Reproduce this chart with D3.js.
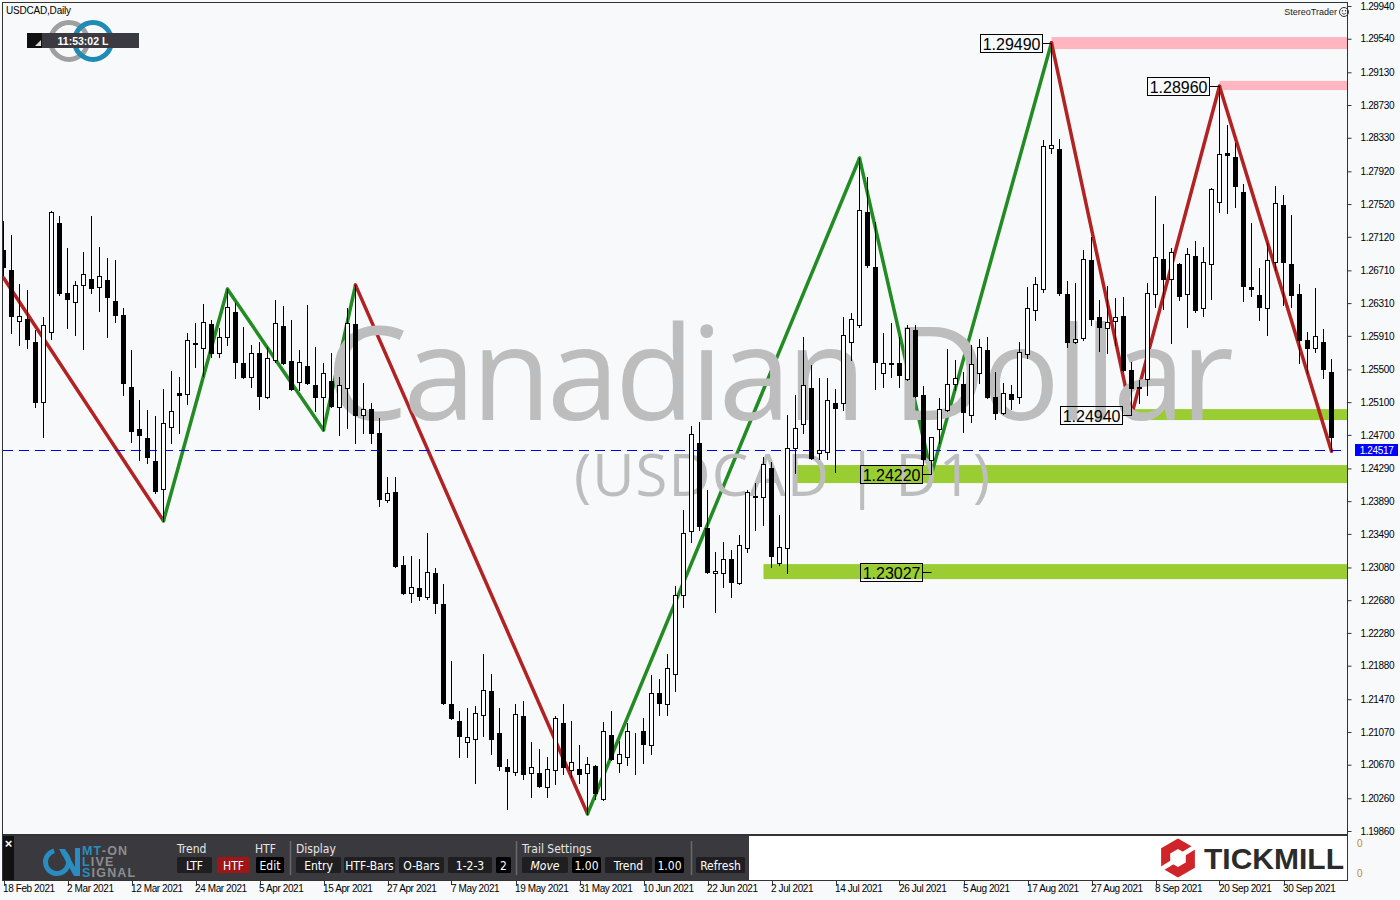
<!DOCTYPE html>
<html><head><meta charset="utf-8">
<script src="https://cdn.jsdelivr.net/npm/d3@7"></script>
<style>body{margin:0;background:#f8f9fb;overflow:hidden}svg{display:block}</style>
</head><body><svg id="c" width="1400" height="900"></svg>
<script>
// ---------------- DATA ----------------
const dateTickLabels = ["18 Feb 2021","2 Mar 2021","12 Mar 2021","24 Mar 2021","5 Apr 2021","15 Apr 2021","27 Apr 2021","7 May 2021","19 May 2021","31 May 2021","10 Jun 2021","22 Jun 2021","2 Jul 2021","14 Jul 2021","26 Jul 2021","5 Aug 2021","17 Aug 2021","27 Aug 2021","8 Sep 2021","20 Sep 2021","30 Sep 2021"];
const dateTickBars = [0,8,16,24,32,40,48,56,64,72,80,88,96,104,112,120,128,136,144,152,160];
const priceTicks = [1.29940,1.29540,1.29130,1.28730,1.28330,1.27920,1.27520,1.27120,1.26710,1.26310,1.25910,1.25500,1.25100,1.24700,1.24290,1.23890,1.23490,1.23080,1.22680,1.22280,1.21880,1.21470,1.21070,1.20670,1.20260,1.19860];

const opens = [1.2696,1.2671,1.2609,1.2612,1.2583,1.2510,1.2596,1.2729,1.2643,1.2632,
1.2653,1.2660,1.2651,1.2659,1.2634,1.2616,1.2528,1.2477,1.2466,1.2438,
1.2404,1.2480,1.2521,1.2520,1.2581,1.2576,1.2605,1.2570,1.2590,1.2620,
1.2558,1.2541,1.2570,1.2516,1.2561,1.2603,1.2560,1.2535,1.2554,1.2531,
1.2516,1.2536,1.2504,1.2527,1.2605,1.2494,1.2502,1.2472,1.2390,1.2400,
1.2311,1.2277,1.2283,1.2272,1.2301,1.2263,1.2141,1.2120,1.2095,1.2098,
1.2128,1.2157,1.2106,1.2064,1.2058,1.2126,1.2057,1.2057,1.2040,1.2061,
1.2118,1.2061,1.2062,1.2057,1.2066,1.2025,1.2103,1.2069,1.2077,1.2104,
1.2108,1.2091,1.2155,1.2141,1.2178,1.2274,1.2352,1.2460,1.2356,1.2301,
1.2301,1.2318,1.2289,1.2332,1.2394,1.2394,1.2429,1.2313,1.2332,1.2454,
1.2483,1.2527,1.2448,1.2449,1.2509,1.2509,1.2583,1.2604,1.2742,1.2675,
1.2546,1.2557,1.2558,1.2538,1.2598,1.2519,1.2439,1.2477,1.2500,1.2532,
1.2532,1.2494,1.2545,1.2574,1.2516,1.2497,1.2520,1.2516,1.2569,1.2623,
1.2648,1.2820,1.2819,1.2642,1.2583,1.2588,1.2684,1.2614,1.2601,1.2609,
1.2615,1.2549,1.2528,1.2538,1.2642,1.2685,1.2660,1.2679,1.2642,1.2689,
1.2625,1.2679,1.2755,1.2815,1.2809,1.2767,1.2651,1.2641,1.2625,1.2681,
1.2751,1.2679,1.2642,1.2586,1.2576,1.2583,1.2547];
const highs = [1.2731,1.2714,1.2654,1.2647,1.2598,1.2614,1.2743,1.2737,1.2698,1.2658,
1.2693,1.2737,1.2699,1.2686,1.2684,1.2625,1.2574,1.2513,1.2500,1.2493,
1.2526,1.2548,1.2541,1.2594,1.2607,1.2630,1.2610,1.2601,1.2648,1.2631,
1.2602,1.2580,1.2583,1.2577,1.2635,1.2627,1.2610,1.2574,1.2629,1.2577,
1.2558,1.2570,1.2541,1.2625,1.2653,1.2533,1.2509,1.2491,1.2418,1.2418,
1.2322,1.2322,1.2318,1.2350,1.2307,1.2288,1.2194,1.2133,1.2136,1.2139,
1.2202,1.2178,1.2136,1.2074,1.2141,1.2145,1.2095,1.2086,1.2077,1.2126,
1.2141,1.2120,1.2091,1.2077,1.2067,1.2119,1.2133,1.2096,1.2118,1.2106,
1.2124,1.2176,1.2172,1.2202,1.2285,1.2378,1.2481,1.2486,1.2403,1.2327,
1.2339,1.2329,1.2348,1.2403,1.2411,1.2443,1.2437,1.2372,1.2494,1.2519,
1.2590,1.2555,1.2539,1.2539,1.2526,1.2614,1.2619,1.2808,1.2785,1.2730,
1.2594,1.2607,1.2590,1.2604,1.2604,1.2530,1.2467,1.2515,1.2575,1.2561,
1.2547,1.2580,1.2587,1.2590,1.2547,1.2533,1.2531,1.2583,1.2651,1.2663,
1.2830,1.2949,1.2831,1.2658,1.2655,1.2696,1.2712,1.2635,1.2652,1.2637,
1.2638,1.2559,1.2537,1.2655,1.2762,1.2728,1.2698,1.2680,1.2698,1.2707,
1.2699,1.2772,1.2896,1.2849,1.2827,1.2777,1.2729,1.2674,1.2704,1.2774,
1.2763,1.2739,1.2654,1.2596,1.2649,1.2599,1.2563];
const lows = [1.2665,1.2594,1.2580,1.2576,1.2504,1.2467,1.2587,1.2641,1.2601,1.2592,
1.2575,1.2643,1.2621,1.2590,1.2608,1.2519,1.2461,1.2439,1.2436,1.2399,
1.2365,1.2460,1.2472,1.2508,1.2553,1.2542,1.2565,1.2565,1.2580,1.2539,
1.2540,1.2528,1.2501,1.2515,1.2559,1.2557,1.2525,1.2525,1.2532,1.2499,
1.2476,1.2504,1.2470,1.2478,1.2460,1.2472,1.2460,1.2383,1.2388,1.2309,
1.2276,1.2266,1.2268,1.2269,1.2252,1.2141,1.2123,1.2077,1.2077,1.2045,
1.2102,1.2080,1.2060,1.2013,1.2054,1.2049,1.2027,1.2040,1.2027,1.2043,
1.2056,1.2052,1.2045,1.2007,1.2025,1.2024,1.2073,1.2058,1.2067,1.2056,
1.2069,1.2080,1.2128,1.2128,1.2157,1.2260,1.2339,1.2354,1.2301,1.2253,
1.2284,1.2272,1.2288,1.2327,1.2354,1.2360,1.2308,1.2311,1.2301,1.2423,
1.2472,1.2441,1.2441,1.2441,1.2425,1.2500,1.2561,1.2602,1.2675,1.2526,
1.2528,1.2541,1.2528,1.2537,1.2516,1.2433,1.2422,1.2460,1.2499,1.2525,
1.2473,1.2486,1.2533,1.2515,1.2489,1.2496,1.2501,1.2509,1.2564,1.2610,
1.2644,1.2814,1.2641,1.2577,1.2582,1.2586,1.2604,1.2572,1.2570,1.2580,
1.2548,1.2494,1.2509,1.2519,1.2626,1.2624,1.2582,1.2635,1.2602,1.2620,
1.2615,1.2636,1.2742,1.2741,1.2748,1.2634,1.2640,1.2610,1.2592,1.2671,
1.2629,1.2626,1.2558,1.2546,1.2571,1.2540,1.2450];
const closes = [1.2675,1.2615,1.2615,1.2587,1.2510,1.2604,1.2742,1.2643,1.2636,1.2653,
1.2667,1.2649,1.2664,1.2638,1.2616,1.2533,1.2475,1.2470,1.2443,1.2401,
1.2484,1.2499,1.2519,1.2586,1.2582,1.2608,1.2570,1.2590,1.2626,1.2559,
1.2541,1.2570,1.2517,1.2564,1.2607,1.2558,1.2526,1.2559,1.2533,1.2516,
1.2546,1.2505,1.2531,1.2607,1.2494,1.2502,1.2472,1.2392,1.2399,1.2310,
1.2277,1.2284,1.2273,1.2302,1.2264,1.2143,1.2124,1.2102,1.2101,1.2130,
1.2158,1.2098,1.2065,1.2059,1.2129,1.2056,1.2064,1.2041,1.2062,1.2124,
1.2064,1.2070,1.2056,1.2068,1.2032,1.2108,1.2074,1.2080,1.2108,1.2105,
1.2092,1.2155,1.2142,1.2185,1.2274,1.2350,1.2471,1.2359,1.2302,1.2304,
1.2318,1.2290,1.2335,1.2400,1.2395,1.2434,1.2322,1.2333,1.2454,1.2478,
1.2531,1.2442,1.2451,1.2513,1.2503,1.2592,1.2612,1.2745,1.2678,1.2559,
1.2558,1.2558,1.2543,1.2601,1.2517,1.2441,1.2467,1.2502,1.2532,1.2539,
1.2498,1.2557,1.2577,1.2516,1.2497,1.2521,1.2514,1.2571,1.2625,1.2654,
1.2823,1.2824,1.2643,1.2583,1.2587,1.2685,1.2612,1.2602,1.2608,1.2614,
1.2549,1.2527,1.2527,1.2643,1.2687,1.2660,1.2693,1.2640,1.2691,1.2623,
1.2681,1.2771,1.2813,1.2812,1.2774,1.2652,1.2648,1.2626,1.2684,1.2753,
1.2681,1.2641,1.2586,1.2576,1.2591,1.2550,1.2467];

// zigzag pivots (bar index, price) and trend of each segment
const zigBars   = [0, 20, 28, 40, 44, 73, 107, 116, 131, 141, 152, 166];
const zigPrices = [1.2662, 1.2365, 1.2648, 1.2476, 1.2653, 1.2007, 1.2808, 1.2422, 1.2949, 1.2494, 1.2896, 1.2450];
const zigTrend  = ["bear","bull","bull","bull","bear","bull","bull","bull","bear","bear","bear"];

// support / resistance zones
const zoneStartBars = [131, 152, 141, 99, 95];
const zoneTops      = [1.29561, 1.29025, 1.25015, 1.24331, 1.23121];
const zoneBottoms   = [1.29414, 1.28913, 1.24881, 1.24111, 1.22938];
const zoneKinds     = ["res","res","sup","sup","sup"];

// price labels
const labelTexts  = ["1.29490","1.28960","1.24940","1.24220","1.23027"];
const labelPrices = [1.2949, 1.2896, 1.2494, 1.2422, 1.23027];
const labelBars   = [131, 152, 141, 116, 116];

const currentPrice = 1.24517;

// ---------------- DRAW ----------------
const svg = d3.select("#c");
const FONT = "'Liberation Sans', Arial, sans-serif";
const NARROW = "'DejaVu Sans Condensed','Liberation Sans Narrow','DejaVu Sans',sans-serif";
const L = 3, R = 1347, T = 3, B = 834;
const x = d3.scaleLinear().domain([0, 166]).range([3.5, 1331.5]);
const y = d3.scaleLinear().domain([1.1986, 1.2994]).range([831, 6]);

svg.append("rect").attr("width",1400).attr("height",900).attr("fill","#f8f9fb");
svg.append("defs").append("clipPath").attr("id","plot")
  .append("rect").attr("x",L).attr("y",T).attr("width",R-L).attr("height",B-T);
const plot = svg.append("g").attr("clip-path","url(#plot)");

// zones
const zoneColor = {res:"#ffb6c1", sup:"#9acd32"};
plot.selectAll("rect.zone").data(zoneStartBars).join("rect").attr("class","zone")
  .attr("x", d => x(d)).attr("width", d => R - x(d))
  .attr("y", (d,i) => y(zoneTops[i])).attr("height", (d,i) => y(zoneBottoms[i]) - y(zoneTops[i]))
  .attr("fill", (d,i) => zoneColor[zoneKinds[i]]);

// zigzag
const trendColor = {bull:"#228b22", bear:"#b22222"};
const line = d3.line().x(d => x(d[0])).y(d => y(d[1]));
zigTrend.forEach((t,i) => {
  plot.append("path")
    .attr("d", line([[zigBars[i], zigPrices[i]], [zigBars[i+1], zigPrices[i+1]]]))
    .attr("stroke", trendColor[t]).attr("stroke-width",3.5).attr("fill","none")
    .attr("stroke-linecap","round");
});

// watermark
plot.append("text").attr("x",326).attr("y",420).text("Canadian Dollar")
  .attr("font-family","'Open Sans', sans-serif").attr("font-size",130)
  .attr("textLength",908).attr("lengthAdjust","spacing").attr("fill","#bdbdbd");
plot.append("text").attr("x",574).attr("y",496).text("(USDCAD | D1)")
  .attr("font-family","'Open Sans', sans-serif").attr("font-size",58)
  .attr("textLength",416).attr("lengthAdjust","spacing").attr("fill","#bdbdbd");

// current price dashed line
plot.append("line").attr("x1",L).attr("x2",R)
  .attr("y1", Math.round(y(currentPrice))+0.5).attr("y2", Math.round(y(currentPrice))+0.5)
  .attr("stroke","#0000ff").attr("stroke-dasharray","10,6");

// candles
const idx = d3.range(opens.length);
const cg = plot.append("g").attr("shape-rendering","crispEdges");
cg.selectAll("line.wick").data(idx).join("line").attr("class","wick")
  .attr("x1", i => x(i)).attr("x2", i => x(i))
  .attr("y1", i => Math.round(y(highs[i]))).attr("y2", i => Math.round(y(lows[i]))+1)
  .attr("stroke","#000");
cg.selectAll("rect.body").data(idx).join("rect").attr("class","body")
  .each(function(i){
    const up = closes[i] >= opens[i];
    const yt = Math.round(y(Math.max(opens[i],closes[i])));
    const yb = Math.round(y(Math.min(opens[i],closes[i])));
    const s = d3.select(this);
    if (up) {
      s.attr("x", x(i)-2).attr("width",4).attr("y", yt+0.5).attr("height", Math.max(0,yb-yt))
       .attr("fill","#fff").attr("stroke","#000").attr("shape-rendering","auto");
    } else {
      s.attr("x", x(i)-2.5).attr("width",5).attr("y", yt).attr("height", Math.max(1,yb-yt+1))
       .attr("fill","#000");
    }
  });

// price labels
const lg = plot.append("g");
labelTexts.forEach((t,i) => {
  const bx = x(labelBars[i]), py = Math.round(y(labelPrices[i]))+0.5;
  const right = Math.round(bx - 10) + 0.5;
  lg.append("line").attr("x1",right).attr("x2",bx).attr("y1",py).attr("y2",py).attr("stroke","#000");
  lg.append("rect").attr("x",right-62).attr("y",py-9).attr("width",62).attr("height",18)
    .attr("fill","none").attr("stroke","#000");
  lg.append("text").attr("x",right-2).attr("y",py+6).attr("text-anchor","end").text(t)
    .attr("font-family",FONT).attr("font-size",16).attr("fill","#000");
});

// top-left title & logo
svg.append("text").attr("x",6).attr("y",14).text("USDCAD,Daily")
  .attr("font-family",FONT).attr("font-size",10).attr("letter-spacing",-0.2).attr("fill","#000");
svg.append("circle").attr("cx",69).attr("cy",41).attr("r",18.5).attr("fill","none")
  .attr("stroke","#a0a0a0").attr("stroke-width",5);
svg.append("circle").attr("cx",93).attr("cy",41).attr("r",18.5).attr("fill","none")
  .attr("stroke","#1f8ab3").attr("stroke-width",5);
svg.append("rect").attr("x",27).attr("y",33).attr("width",112).attr("height",15).attr("fill","#3b3a40");
svg.append("rect").attr("x",27).attr("y",33).attr("width",15).attr("height",15).attr("fill","#111");
svg.append("path").attr("d","M35,46 L41,46 L41,40 Z").attr("fill","#ddd");
svg.append("text").attr("x",83).attr("y",44.5).attr("text-anchor","middle").text("11:53:02 L")
  .attr("font-family",FONT).attr("font-size",10.5).attr("font-weight","bold").attr("fill","#fff");

// StereoTrader
svg.append("text").attr("x",1337).attr("y",15).attr("text-anchor","end").text("StereoTrader")
  .attr("font-family",FONT).attr("font-size",9).attr("fill","#222");
const sm = svg.append("g").attr("transform","translate(1344,12)");
sm.append("circle").attr("r",4.5).attr("fill","none").attr("stroke","#333");
sm.append("circle").attr("cx",-1.6).attr("cy",-1.2).attr("r",0.7).attr("fill","#333");
sm.append("circle").attr("cx",1.6).attr("cy",-1.2).attr("r",0.7).attr("fill","#333");
sm.append("path").attr("d","M-2.2,1.2 Q0,3.4 2.2,1.2").attr("fill","none").attr("stroke","#333").attr("stroke-width",0.8);

// frames
svg.append("rect").attr("x",2.5).attr("y",2.5).attr("width",R-2).attr("height",B-2)
  .attr("fill","none").attr("stroke","#333");

// indicator panel
svg.append("rect").attr("x",749).attr("y",836).attr("width",R-749).attr("height",44).attr("fill","#fff");
svg.append("rect").attr("x",3).attr("y",836).attr("width",746).attr("height",44).attr("fill","#3a393e");
svg.append("rect").attr("x",3).attr("y",836).attr("width",11).attr("height",44).attr("fill","#111");
svg.append("text").attr("x",8.5).attr("y",848).attr("text-anchor","middle").text("×")
  .attr("font-family",FONT).attr("font-size",13).attr("font-weight","bold").attr("fill","#fff");
svg.append("rect").attr("x",2.5).attr("y",835.5).attr("width",R-2).attr("height",45)
  .attr("fill","none").attr("stroke","#333");

// MT-ON LIVE SIGNAL logo
const lb = "#2a8cc0", lgray = "#8d8d90";
svg.append("path").attr("d", d3.arc()({innerRadius:9,outerRadius:14,startAngle:0.5,endAngle:2*Math.PI-0.25}))
  .attr("transform","translate(57,862)").attr("fill",lb);
svg.append("path").attr("d","M59,849 L65,849 L80,876 L74,876 Z").attr("fill",lb);
svg.append("rect").attr("x",75).attr("y",848).attr("width",5).attr("height",28).attr("fill",lb);
const logoRows = [["MT","-ON",855],["L","IVE",866],["S","IGNAL",877]];
logoRows.forEach(r => {
  const t = svg.append("text").attr("x",82).attr("y",r[2]).attr("font-family",FONT)
    .attr("font-size",12.5).attr("font-weight","bold").attr("letter-spacing",1.2);
  t.append("tspan").text(r[0]).attr("fill",lb);
  t.append("tspan").text(r[1]).attr("fill",lgray);
});

// panel labels & buttons
const panelLabels = [["Trend",177],["HTF",255],["Display",296],["Trail Settings",522]];
panelLabels.forEach(p => svg.append("text").attr("x",p[1]).attr("y",853).text(p[0])
  .attr("font-family",NARROW).attr("font-size",12).attr("fill","#e6e6e6"));
const buttons = [["LTF",177,35,"#1f1f22"],["HTF",217,33,"#a01515"],["Edit",256,28,"#000"],
  ["Entry",296,45,"#1f1f22"],["HTF-Bars",344,51,"#1f1f22"],["O-Bars",399,45,"#1f1f22"],["1-2-3",448,44,"#1f1f22"],["2",496,15,"#000"],
  ["Move",522,46,"#1f1f22"],["1.00",572,29,"#000"],["Trend",605,47,"#1f1f22"],["1.00",655,29,"#000"],
  ["Refresh",696,49,"#1f1f22"]];
buttons.forEach(b => {
  svg.append("rect").attr("x",b[1]).attr("y",857).attr("width",b[2]).attr("height",16).attr("rx",1.5).attr("fill",b[3]);
  svg.append("text").attr("x",b[1]+b[2]/2).attr("y",869.5).attr("text-anchor","middle").text(b[0])
    .attr("font-family",NARROW).attr("font-size",12).attr("fill","#fff")
    .attr("font-style", b[0]==="Move" ? "italic" : "normal");
});
[290, 516, 691].forEach(d => svg.append("line").attr("x1",d+0.5).attr("x2",d+0.5).attr("y1",841).attr("y2",875)
  .attr("stroke","#6a6a6e").attr("stroke-width",1.5));

// TICKMILL logo
const hex = (cx,cy,r) => d3.range(6).map(k => { const a = Math.PI/180*(60*k-90); return [cx+r*Math.cos(a), cy+r*Math.sin(a)]; });
svg.append("polygon").attr("points", hex(1178,858,19.5).join(" ")).attr("fill","#d0242b");
svg.append("polygon").attr("points", hex(1178,858,9).join(" ")).attr("fill","#fff");
svg.append("line").attr("x1",1180).attr("y1",856).attr("x2",1198).attr("y2",845).attr("stroke","#fff").attr("stroke-width",4.5);
svg.append("line").attr("x1",1176).attr("y1",860).attr("x2",1158).attr("y2",871).attr("stroke","#fff").attr("stroke-width",4.5);
svg.append("text").attr("x",1204).attr("y",869).text("TICKMILL")
  .attr("font-family",FONT).attr("font-size",30).attr("font-weight","bold").attr("fill","#2b2b2b");

// right panel scale labels
[843, 873].forEach(v => svg.append("text").attr("x",1357).attr("y",v+3.5).text("0")
  .attr("font-family",FONT).attr("font-size",10).attr("fill","#c08a1a"));

// right price axis
const yAxis = d3.axisRight(y).tickValues(priceTicks).tickFormat(d3.format(".5f")).tickSize(4).tickPadding(9);
const ya = svg.append("g").attr("transform",`translate(${R+0.5},0)`).call(yAxis);
ya.select(".domain").attr("d",`M0,2.5V880.5`).attr("stroke","#333");
ya.selectAll("line").attr("stroke","#333");
ya.selectAll("text").attr("font-family",FONT).attr("font-size",10).attr("letter-spacing",-0.35).attr("fill","#000");

// current price tag
const cpy = Math.round(y(currentPrice));
svg.append("rect").attr("x",1355).attr("y",cpy-6).attr("width",43).attr("height",12).attr("fill","#0000ff");
svg.append("text").attr("x",1376.5).attr("y",cpy+4).attr("text-anchor","middle").text(currentPrice.toFixed(5))
  .attr("font-family",FONT).attr("font-size",10).attr("letter-spacing",-0.35).attr("fill","#fff");

// bottom date axis
const xa = svg.append("g");
dateTickBars.forEach((b,i) => {
  xa.append("line").attr("x1",Math.round(x(b))+0.5).attr("x2",Math.round(x(b))+0.5).attr("y1",880).attr("y2",885).attr("stroke","#333");
  xa.append("text").attr("x",x(b)-0.5).attr("y",892).text(dateTickLabels[i])
    .attr("font-family",FONT).attr("font-size",10).attr("letter-spacing",-0.4).attr("fill","#000");
});
</script></body></html>
